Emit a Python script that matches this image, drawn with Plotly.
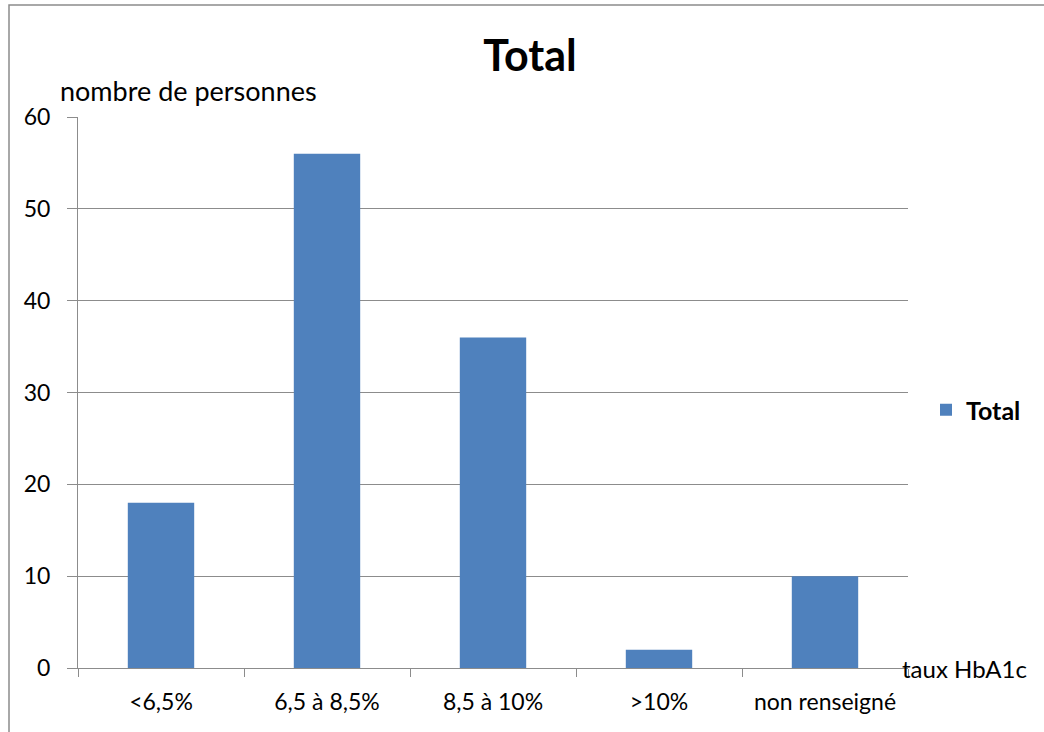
import plotly.graph_objects as go

# HbA1c categories and number of people in each
categories = ["<6,5%", "6,5 à 8,5%", "8,5 à 10%", ">10%", "non renseigné"]
counts = [18, 56, 36, 2, 10]
y_ticks = [0, 10, 20, 30, 40, 50, 60]

FONT = "Lato, 'Open Sans', sans-serif"
BAR_COLOR = "#4F81BD"
GRID = "#8C8C8C"

fig = go.Figure()
fig.add_trace(go.Bar(
    x=categories,
    y=counts,
    name="<b>Total</b>",
    marker=dict(color=BAR_COLOR, line=dict(width=0)),
    showlegend=True,
))

fig.update_layout(
    width=1044,
    height=732,
    margin=dict(l=78, r=136, t=117, b=64),
    paper_bgcolor="white",
    plot_bgcolor="white",
    font=dict(family=FONT, size=22, color="black"),
    bargap=0.6,
    title=dict(
        text="<b>Total</b>",
        x=530 / 1044, xanchor="center",
        y=1 - 56 / 732, yanchor="middle",
        font=dict(family=FONT, size=43, color="black"),
    ),
    legend=dict(
        x=(926 - 78) / 830, xanchor="left",
        y=(668 - 410) / 551, yanchor="middle",
        font=dict(family=FONT, size=25, color="black"),
        itemwidth=30,
        bgcolor="rgba(0,0,0,0)",
    ),
    xaxis=dict(
        type="category",
        showgrid=False,
        showline=True,
        linecolor=GRID,
        linewidth=1,
        ticks="outside",
        tickson="boundaries",
        ticklen=8,
        tickcolor=GRID,
        ticklabelstandoff=13,
        tickfont=dict(family=FONT, size=23, color="black"),
    ),
    yaxis=dict(
        range=[0, 60],
        tickvals=y_ticks,
        showgrid=True,
        gridcolor=GRID,
        gridwidth=1,
        showline=True,
        linecolor=GRID,
        linewidth=1,
        ticks="outside",
        ticklen=10,
        tickcolor=GRID,
        ticklabelstandoff=12,
        zeroline=False,
        tickfont=dict(family=FONT, size=23, color="black"),
    ),
    shapes=[
        # chart frame
        dict(type="rect", xref="paper", yref="paper",
             x0=(9 - 78) / 830, x1=(1060 - 78) / 830,
             y0=-(760 - 668) / 551, y1=1 + (117 - 5) / 551,
             line=dict(color="#8C8C8C", width=1.5), layer="below"),
    ],
    annotations=[
        dict(text="nombre de personnes", xref="paper", yref="paper",
             x=(58 - 78) / 830, xanchor="left",
             y=1 + (117 - 90) / 551, yanchor="middle",
             showarrow=False, font=dict(family=FONT, size=27, color="black")),
        dict(text="taux HbA1c", xref="paper", yref="paper",
             x=(900 - 78) / 830, xanchor="left",
             y=0, yanchor="middle",
             showarrow=False, font=dict(family=FONT, size=24, color="black")),
    ],
)

fig.write_html("out.html")
